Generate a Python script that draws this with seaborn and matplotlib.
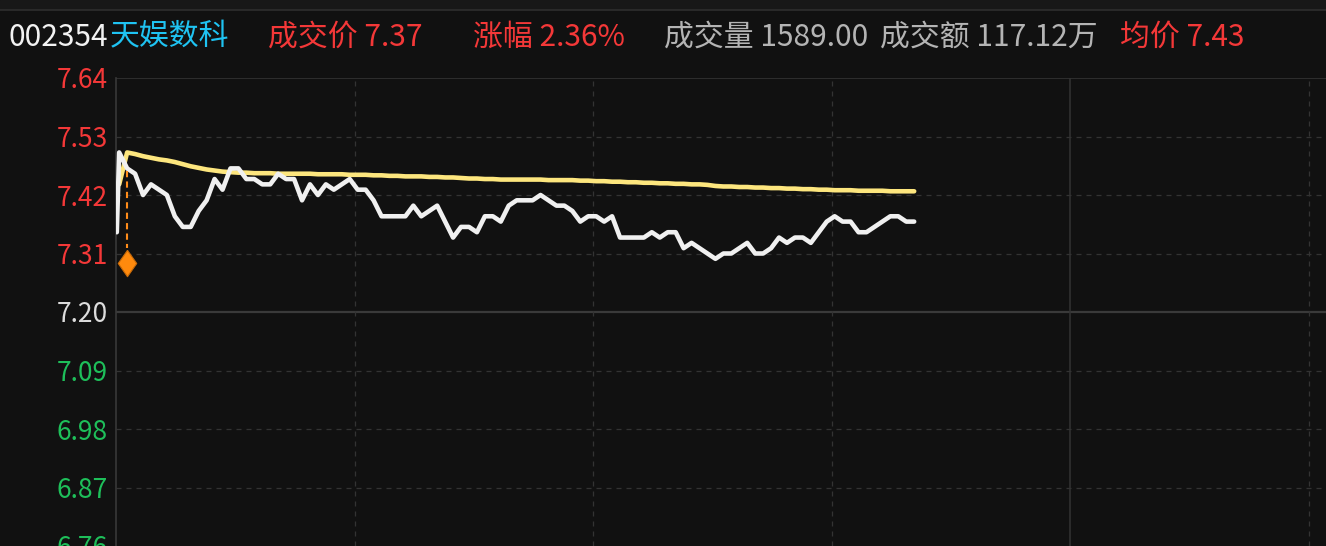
import numpy as np
import seaborn as sns
import matplotlib.pyplot as plt
from matplotlib.lines import Line2D

# intraday time-share data (one point per 2-minute step)
open_price = 7.35
price = [
    7.50, 7.47, 7.46, 7.42, 7.44, 7.43, 7.42, 7.38, 7.36, 7.36,
    7.39, 7.41, 7.45, 7.43, 7.47, 7.47, 7.45, 7.45, 7.44, 7.44,
    7.46, 7.45, 7.45, 7.41, 7.44, 7.42, 7.44, 7.43, 7.44, 7.45,
    7.43, 7.43, 7.41, 7.38, 7.38, 7.38, 7.38, 7.40, 7.38, 7.39,
    7.40, 7.37, 7.34, 7.36, 7.36, 7.35, 7.38, 7.38, 7.37, 7.40,
    7.41, 7.41, 7.41, 7.42, 7.41, 7.40, 7.40, 7.39, 7.37, 7.38,
    7.38, 7.37, 7.38, 7.34, 7.34, 7.34, 7.34, 7.35, 7.34, 7.35,
    7.35, 7.32, 7.33, 7.32, 7.31, 7.30, 7.31, 7.31, 7.32, 7.33,
    7.31, 7.31, 7.32, 7.34, 7.33, 7.34, 7.34, 7.33, 7.35, 7.37,
    7.38, 7.37, 7.37, 7.35, 7.35, 7.36, 7.37, 7.38, 7.38, 7.37,
    7.37,
]
avg_price = [
    7.440, 7.500, 7.497, 7.493, 7.490, 7.487, 7.485, 7.482, 7.478, 7.474,
    7.471, 7.468, 7.466, 7.464, 7.463, 7.462, 7.462, 7.461, 7.461, 7.461,
    7.460, 7.460, 7.460, 7.460, 7.460, 7.459, 7.459, 7.459, 7.459, 7.458,
    7.458, 7.458, 7.457, 7.457, 7.456, 7.456, 7.455, 7.455, 7.455, 7.454,
    7.454, 7.453, 7.453, 7.452, 7.451, 7.451, 7.450, 7.450, 7.449, 7.449,
    7.449, 7.449, 7.449, 7.449, 7.448, 7.448, 7.448, 7.448, 7.447, 7.447,
    7.446, 7.446, 7.445, 7.445, 7.444, 7.444, 7.443, 7.443, 7.442, 7.442,
    7.441, 7.441, 7.440, 7.440, 7.439, 7.437, 7.436, 7.436, 7.435, 7.435,
    7.434, 7.434, 7.433, 7.433, 7.432, 7.432, 7.431, 7.431, 7.430, 7.430,
    7.429, 7.429, 7.429, 7.428, 7.428, 7.428, 7.428, 7.427, 7.427, 7.427,
    7.427,
]
signal_step = 1
signal_price = 7.293
signal_top = 7.465

prev_close = 7.20
yticks = [6.76, 6.87, 6.98, 7.09, 7.20, 7.31, 7.42, 7.53, 7.64]
vgrid_dashed = [30, 60, 90, 150]
vgrid_solid = [120]

header = [
    ("002354", "#f2f2f2"),
    ("天娱数科", "#1fc3f2"),
    ("成交价 7.37", "#f43838"),
    ("涨幅 2.36%", "#f43838"),
    ("成交量 1589.00", "#b4b4b4"),
    ("成交额 117.12万", "#b4b4b4"),
    ("均价 7.43", "#f43838"),
]
header_x = [9, 110, 268, 473, 664, 880, 1120]

BG = "#111111"
W, H = 1326, 546

sns.set_style("dark")
plt.rcParams["font.family"] = ["Noto Sans CJK SC", "DejaVu Sans"]

fig = plt.figure(figsize=(W / 100, H / 100), dpi=100, facecolor=BG)
ax = fig.add_axes([116 / W, 0, (W - 116) / W, (H - 78) / H], facecolor=BG)

step_px = 7.95
x0 = 0.4
xs = np.arange(len(price)) + x0

# grid
for v in yticks[1:-1]:
    if v == prev_close:
        ax.axhline(v, color="#3a3a3a", lw=1.6, zorder=1)
    else:
        ax.axhline(v, color="#333333", lw=0.9, ls=(0, (4, 4)), zorder=1)
ax.axhline(yticks[-1], color="#333333", lw=1.2, zorder=1)
for v in vgrid_dashed:
    ax.axvline(v, color="#333333", lw=0.9, ls=(0, (4, 4)), zorder=1)
for v in vgrid_solid:
    ax.axvline(v, color="#333333", lw=1.1, zorder=1)

# price and average lines
sns.lineplot(x=np.r_[0.1, xs], y=np.r_[open_price, price], ax=ax,
             color="#f0f0f0", lw=3.3, zorder=4, sort=False)
sns.lineplot(x=xs, y=avg_price, ax=ax, color="#fde67e", lw=3.3,
             zorder=3, sort=False)

# trade signal
diamond = [(0, 1), (0.7, 0), (0, -1), (-0.7, 0), (0, 1)]
sx = xs[signal_step]
ax.plot([sx, sx], [signal_top, signal_price + 0.028], color="#ff8c1a",
        lw=1.5, ls=(0, (3, 2)), zorder=5)
ax.plot([sx], [signal_price], marker=diamond, ms=19, color="#ff8a0d",
        mec="#c86a08", mew=0.8, zorder=6)

ax.set_xlim(0, (W - 116) / step_px)
ax.set_ylim(yticks[0], yticks[-1])
ax.set_xticks([])
ax.set_yticks(yticks)
ax.set_yticklabels([f"{v:.2f}" for v in yticks])
ax.tick_params(axis="y", length=0, pad=6, labelsize=19)
for lab, v in zip(ax.get_yticklabels(), yticks):
    if v > prev_close:
        lab.set_color("#f43838")
    elif v < prev_close:
        lab.set_color("#1ebf5a")
    else:
        lab.set_color("#dcdcdc")
ax.grid(False)
for side, sp in ax.spines.items():
    sp.set_visible(side == "left")
ax.spines["left"].set_color("#383838")
ax.spines["left"].set_linewidth(1.2)

# top strip
fig.add_artist(plt.Rectangle((0, 1 - 9 / H), 1, 9 / H, transform=fig.transFigure,
                             color="#181818", zorder=0))
fig.add_artist(Line2D([0, 1], [1 - 9.5 / H] * 2, transform=fig.transFigure,
                      color="#2e2e2e", lw=1.2))

for (txt, col), px in zip(header, header_x):
    fig.text(px / W, 1 - 37 / H, txt, color=col, fontsize=21.5,
             ha="left", va="center")

fig.savefig("out.png", dpi=100, facecolor=BG)
